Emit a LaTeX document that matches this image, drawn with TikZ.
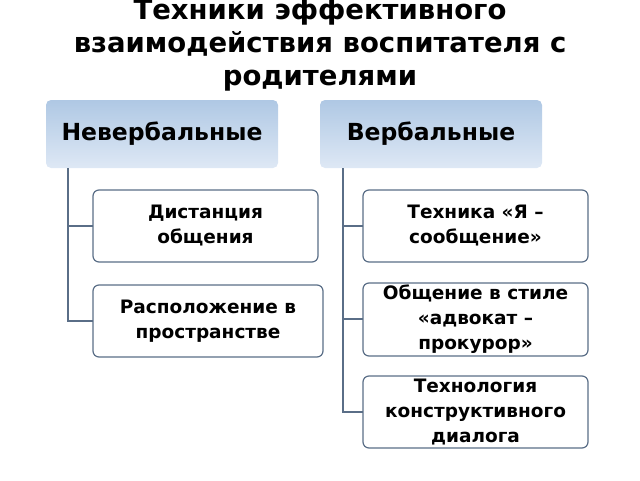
\documentclass[tikz,border=0pt]{standalone}
\usepackage{fontspec}
\setmainfont{DejaVu Sans}
\begin{document}
\begin{tikzpicture}[x=1pt,y=-1pt,
 hdr/.style={rounded corners=5pt,top color=hblue,bottom color=hlight,draw=none},
 child/.style={rounded corners=6pt,draw=lineblue,line width=1.2pt,fill=white},
 conn/.style={draw=lineblue,line width=1.2pt},
 ttl/.style={font=\bfseries\fontsize{27.5}{33}\selectfont,align=center},
 htxt/.style={font=\bfseries\fontsize{23.5}{30}\selectfont},
 ctxt/.style={font=\bfseries\fontsize{18.5}{25}\selectfont,align=center}]
\definecolor{hblue}{RGB}{175,200,228}
\definecolor{hlight}{RGB}{222,232,245}
\definecolor{lineblue}{RGB}{90,110,135}
\useasboundingbox (0,0) rectangle (640,480);
\node[ttl] (title) at (320,45) {Техники эффективного\\взаимодействия воспитателя с\\родителями};
\path[hdr] (46,100) rectangle (278,168);
\node[htxt] (h1) at (162,134) {Невербальные};
\path[hdr] (320,100) rectangle (542,168);
\node[htxt] (h2) at (431,134) {Вербальные};
\coordinate (l0) at (68,168); \coordinate (l1) at (68,226); \coordinate (l2) at (68,321);
\coordinate (r0) at (343,168); \coordinate (r1) at (343,226); \coordinate (r2) at (343,319); \coordinate (r3) at (343,412);
\draw[child] (93,190) rectangle (318,262); \node[ctxt] (c1) at (205.5,226) {Дистанция\\общения};
\draw[child] (93,285) rectangle (323,357); \node[ctxt] (c2) at (208,321) {Расположение в\\пространстве};
\draw[child] (363,190) rectangle (588,262); \node[ctxt] (c3) at (475.5,226) {Техника «Я –\\сообщение»};
\draw[child] (363,283) rectangle (588,356); \node[ctxt] (c4) at (475.5,319) {Общение в стиле\\«адвокат –\\прокурор»};
\draw[child] (363,376) rectangle (588,448); \node[ctxt] (c5) at (475.5,412) {Технология\\конструктивного\\диалога};
\draw[conn] (l0) -- (l2) -- (93,321);
\draw[conn] (l1) -- (93,226);
\draw[conn] (r0) -- (r3) -- (363,412);
\draw[conn] (r1) -- (363,226);
\draw[conn] (r2) -- (363,319);
\end{tikzpicture}
\end{document}
